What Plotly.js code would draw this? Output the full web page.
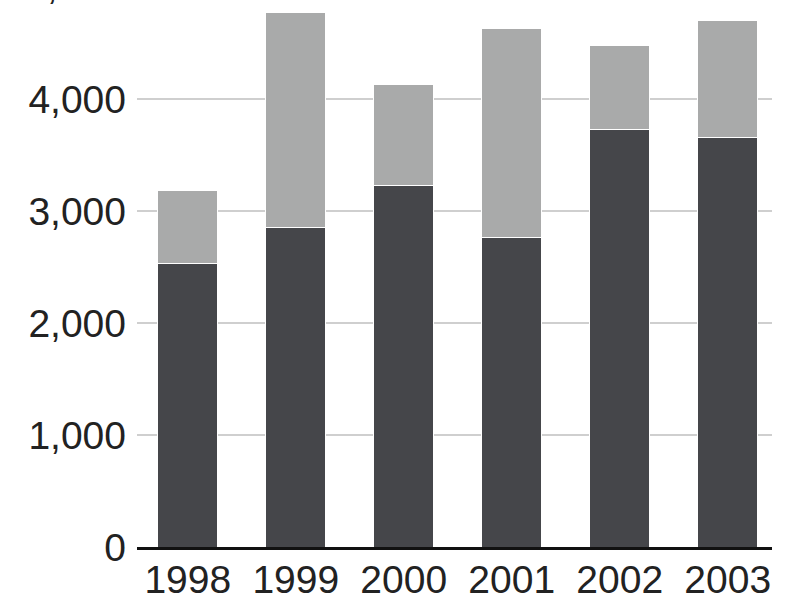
<!DOCTYPE html>
<html>
<head>
<meta charset="utf-8">
<script src="https://cdn.plot.ly/plotly-3.0.1.min.js"></script>
<style>html,body{margin:0;padding:0;background:#fff;}#chart{width:800px;height:600px;}</style>
</head>
<body>
<div id="chart"></div>
<script>
var years = ['1998', '1999', '2000', '2001', '2002', '2003'];
var darkValues = [2530, 2850, 3230, 2760, 3730, 3660];
var lightValues = [650, 1920, 900, 1870, 750, 1040];
var yTicks = [0, 1000, 2000, 3000, 4000];
var yTickLabels = ['0', '1,000', '2,000', '3,000', '4,000'];
var cutTickLabel = '5,000';

var FONT = '"Liberation Sans Narrow", "Arial Narrow", "Liberation Sans", Arial, sans-serif';
var FS = 39;

var traces = [
  {type: 'bar', x: years, y: darkValues, marker: {color: '#45464a', line: {color: '#ffffff', width: 1}}, hoverinfo: 'none'},
  {type: 'bar', x: years, y: lightValues, marker: {color: '#a9aaaa', line: {color: '#ffffff', width: 1}}, hoverinfo: 'none'}
];

var layout = {
  width: 800, height: 600,
  margin: {l: 137, r: 28, t: 0, b: 53},
  paper_bgcolor: '#ffffff', plot_bgcolor: '#ffffff',
  barmode: 'stack', bargap: 0.44,
  showlegend: false,
  font: {family: FONT, size: FS, color: '#222222'},
  xaxis: {
    type: 'category', range: [-0.47, 5.41],
    showline: true, linecolor: '#111111', linewidth: 3,
    ticks: '', showgrid: false, zeroline: false,
    tickfont: {family: FONT, size: FS, color: '#222222'},
    ticklabelstandoff: -4
  },
  yaxis: {
    range: [0, 4884],
    tickvals: yTicks, ticktext: yTickLabels,
    ticks: '', showline: false, zeroline: false,
    showgrid: true, gridcolor: '#cfcfcf', gridwidth: 2,
    tickfont: {family: FONT, size: FS, color: '#222222'},
    ticklabelstandoff: 10
  },
  annotations: [{
    xref: 'paper', yref: 'paper', x: 0, y: 1, xanchor: 'right', yanchor: 'bottom',
    xshift: -12, yshift: -9, text: cutTickLabel, showarrow: false,
    font: {family: FONT, size: FS, color: '#222222'}
  }]
};

Plotly.newPlot('chart', traces, layout, {displayModeBar: false, staticPlot: true});
</script>
</body>
</html>
